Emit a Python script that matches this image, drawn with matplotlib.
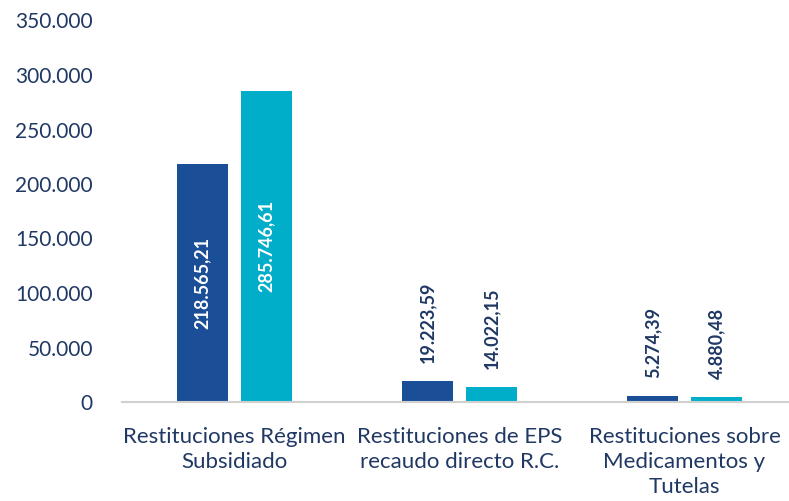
import matplotlib
matplotlib.use("Agg")
import matplotlib.pyplot as plt
import numpy as np
from matplotlib.ticker import FuncFormatter

categories = ["Restituciones Régimen\nSubsidiado",
              "Restituciones de EPS\nrecaudo directo R.C.",
              "Restituciones sobre\nMedicamentos y\nTutelas"]
serie_a = [218565.21, 19223.59, 5274.39]
serie_b = [285746.61, 14022.15, 4880.48]
labels_a = ["218.565,21", "19.223,59", "5.274,39"]
labels_b = ["285.746,61", "14.022,15", "4.880,48"]
inside = [True, False, False]

DARK = "#1A4F97"
CYAN = "#00AECA"
TXT = "#1F3864"

plt.rcParams['font.family'] = ['Lato', 'DejaVu Sans']

fig = plt.figure(figsize=(7.89, 5.01), dpi=100)
ax = fig.add_axes([122/789, 1 - 402/501, 1 - 122/789, (402 - 20.5)/501])

x = np.arange(len(categories))
w = 0.227
off = 0.142
b1 = ax.bar(x - off, serie_a, w, color=DARK)
b2 = ax.bar(x + off, serie_b, w, color=CYAN)

for bars, labs in ((b1, labels_a), (b2, labels_b)):
    for rect, lab, ins in zip(bars, labs, inside):
        cx = rect.get_x() + rect.get_width() / 2
        h = rect.get_height()
        if ins:
            ax.text(cx, h / 2, lab, rotation=90, ha='center', va='center',
                    color='white', fontsize=13, fontweight='bold')
        else:
            ax.annotate(lab, (cx, h), xytext=(0, 13), textcoords='offset points',
                        rotation=90, ha='center', va='bottom',
                        color=TXT, fontsize=13, fontweight='bold')

ax.set_ylim(0, 350000)
ax.set_xlim(-0.5, 2.5 - 8/225)
ax.set_yticks(np.arange(0, 350001, 50000))
ax.yaxis.set_major_formatter(FuncFormatter(lambda v, p: f"{int(v):,}".replace(",", ".")))
ax.set_xticks(x)
ax.set_xticklabels(categories, linespacing=1.32)
ax.tick_params(axis='y', length=0, pad=21, labelsize=15, labelcolor=TXT)
ax.tick_params(axis='x', length=0, pad=18, labelsize=16, labelcolor=TXT)
for s in ('top', 'right', 'left'):
    ax.spines[s].set_visible(False)
ax.spines['bottom'].set_color('#D0D0D0')
ax.spines['bottom'].set_linewidth(1.5)

fig.savefig("out.png", dpi=100)
